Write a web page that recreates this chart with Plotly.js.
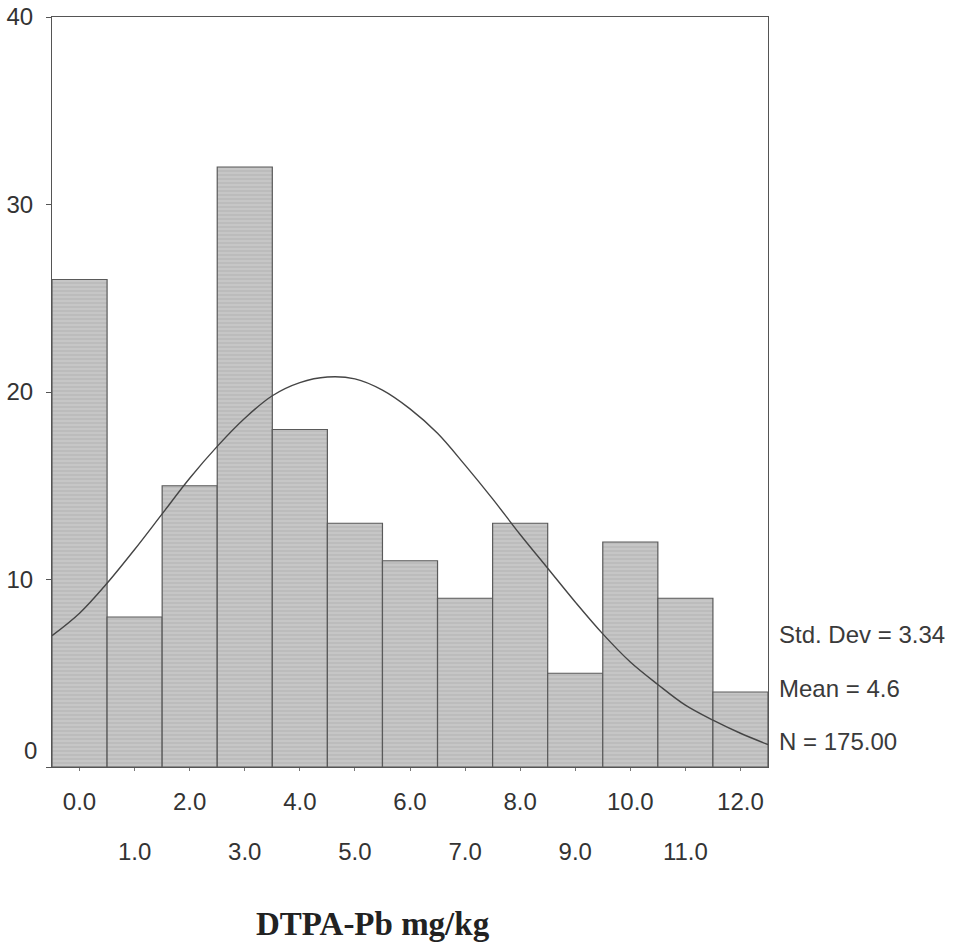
<!DOCTYPE html>
<html>
<head>
<meta charset="utf-8">
<script src="https://cdn.plot.ly/plotly-3.0.1.min.js"></script>
<style>html,body{margin:0;padding:0;background:#fff;}#chart{width:966px;height:947px;}</style>
</head>
<body>
<div id="chart"></div>
<script>
// Histogram bins (bin centres) and counts
var binCenters = [0, 1, 2, 3, 4, 5, 6, 7, 8, 9, 10, 11, 12];
var counts = [26, 8, 15, 32, 18, 13, 11, 9, 13, 5, 12, 9, 4];

// Fitted normal curve
var curveX = [-0.5, 0, 0.5, 1, 1.5, 2, 2.5, 3, 3.5, 4, 4.5, 5, 5.5, 6, 6.5, 7, 7.5, 8, 8.5, 9, 9.5, 10, 10.5, 11, 11.5, 12, 12.5];
var curveY = [7.0, 8.2, 9.8, 11.6, 13.5, 15.4, 17.1, 18.6, 19.8, 20.5, 20.8, 20.7, 20.1, 19.1, 17.8, 16.1, 14.3, 12.4, 10.6, 8.8, 7.1, 5.6, 4.4, 3.3, 2.5, 1.8, 1.2];

var evenTicks = [0, 2, 4, 6, 8, 10, 12];
var evenLabels = ['0.0', '2.0', '4.0', '6.0', '8.0', '10.0', '12.0'];
var oddTicks = [1, 3, 5, 7, 9, 11];
var oddLabels = ['1.0', '3.0', '5.0', '7.0', '9.0', '11.0'];
var yTicks = [0, 10, 20, 30, 40];
var yLabels = ['', '10', '20', '30', '40'];
var yZeroLabel = '0';

var statsText = ['Std. Dev = 3.34', 'Mean = 4.6', 'N = 175.00'];
var statsY = [7.05, 4.2, 1.35];
var xTitle = 'DTPA-Pb mg/kg';

var font = 'Liberation Sans, Arial, sans-serif';

var traces = [
  {
    type: 'bar', x: binCenters, y: counts, width: 1,
    marker: {
      color: '#c4c4c4',
      line: {color: '#5a5a5a', width: 1.2},
      pattern: {shape: '-', bgcolor: '#c6c6c6', fgcolor: '#a4a4a4', size: 4, solidity: 0.3, fillmode: 'overlay'}
    },
    hoverinfo: 'x+y', showlegend: false
  },
  {
    type: 'scatter', mode: 'lines', x: curveX, y: curveY,
    line: {color: '#454545', width: 1.4, shape: 'spline'},
    showlegend: false, hoverinfo: 'skip'
  }
];

var annotations = statsText.map(function (t, i) {
  return {
    text: t, xref: 'paper', x: 1, xshift: 9, xanchor: 'left',
    yref: 'y', y: statsY[i], yanchor: 'middle', showarrow: false,
    font: {family: font, size: 24, color: '#3a3a3a'}
  };
});
annotations.push({
  text: yZeroLabel, xref: 'paper', x: 0, xshift: -13, xanchor: 'right',
  yref: 'y', y: 0.9, yanchor: 'middle', showarrow: false,
  font: {family: font, size: 24, color: '#333'}
});
annotations.push({
  text: '<b>' + xTitle + '</b>', xref: 'paper', x: 0.448, xanchor: 'center',
  yref: 'paper', y: -0.209, yanchor: 'middle', showarrow: false,
  font: {family: 'Liberation Serif, Times New Roman, serif', size: 33, color: '#222'}
});

var layout = {
  width: 966, height: 947,
  margin: {l: 52, r: 198, t: 17, b: 180},
  paper_bgcolor: '#ffffff', plot_bgcolor: '#ffffff',
  bargap: 0,
  showlegend: false,
  xaxis: {
    range: [-0.5, 12.5],
    tickvals: evenTicks, ticktext: evenLabels,
    ticks: 'outside', ticklen: 3, tickcolor: '#777',
    ticklabelstandoff: 10,
    tickfont: {family: font, size: 24, color: '#333'},
    showline: true, mirror: true, linecolor: '#555', linewidth: 1,
    showgrid: false, zeroline: false
  },
  xaxis2: {
    overlaying: 'x', anchor: 'y', side: 'bottom',
    range: [-0.5, 12.5],
    tickvals: oddTicks, ticktext: oddLabels,
    ticks: 'outside', ticklen: 3, tickcolor: '#777',
    ticklabelstandoff: 60,
    tickfont: {family: font, size: 24, color: '#333'},
    showline: false, showgrid: false, zeroline: false
  },
  yaxis: {
    range: [0, 40],
    tickvals: yTicks, ticktext: yLabels,
    ticks: 'outside', ticklen: 5, tickcolor: '#555',
    ticklabelstandoff: 8,
    tickfont: {family: font, size: 24, color: '#333'},
    showline: true, mirror: true, linecolor: '#555', linewidth: 1,
    showgrid: false, zeroline: false
  },
  annotations: annotations
};

// invisible trace to activate xaxis2
traces.push({type: 'scatter', x: [0], y: [0], xaxis: 'x2', mode: 'markers', marker: {opacity: 0}, hoverinfo: 'skip', showlegend: false});

Plotly.newPlot('chart', traces, layout, {displayModeBar: false, staticPlot: true});
</script>
</body>
</html>
